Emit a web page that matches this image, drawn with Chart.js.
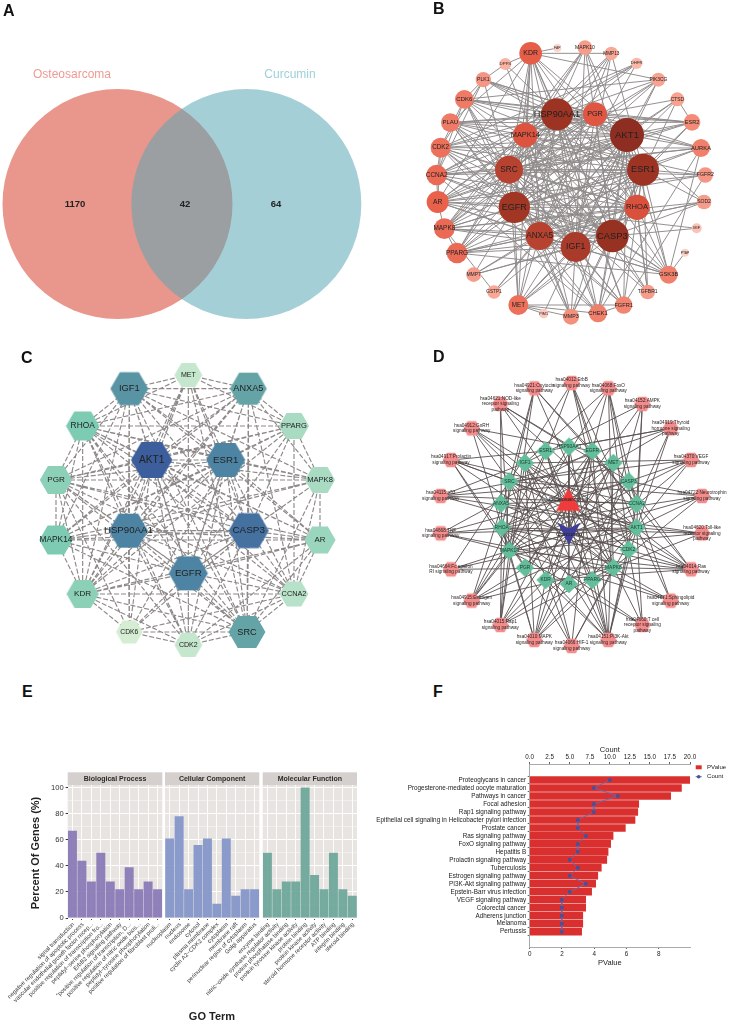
<!DOCTYPE html>
<html>
<head>
<meta charset="utf-8">
<title>Figure</title>
<script src="https://cdn.jsdelivr.net/npm/chart.js@4"></script>
<style>
  html, body { margin: 0; padding: 0; background: #fff; }
  #page { position: relative; width: 730px; height: 1023px; overflow: hidden; }
  canvas { position: absolute; }
  .tag { position: absolute; font: bold 16px "Liberation Sans", sans-serif; color: #111; line-height: 16px; }
</style>
</head>
<body>
<div id="page">
  <canvas id="venn" style="left:0;top:0" width="365" height="330"></canvas>
  <canvas id="ppiB" style="left:400px;top:0" width="330" height="340"></canvas>
  <canvas id="ppiC" style="left:0;top:340px" width="365" height="330"></canvas>
  <canvas id="netD" style="left:390px;top:340px" width="340" height="330"></canvas>
  <canvas id="goBP" style="left:0;top:770px" width="365" height="253"></canvas>
  <canvas id="goCC" style="left:0;top:770px" width="365" height="253"></canvas>
  <canvas id="goMF" style="left:0;top:770px" width="365" height="253"></canvas>
  <canvas id="kegg" style="left:340px;top:745px" width="390" height="222"></canvas>
  <div class="tag" style="left:3px;top:3px">A</div>
  <div class="tag" style="left:433px;top:1px">B</div>
  <div class="tag" style="left:21px;top:350px">C</div>
  <div class="tag" style="left:433px;top:349px">D</div>
  <div class="tag" style="left:22px;top:684px">E</div>
  <div class="tag" style="left:433px;top:684px">F</div>
</div>
<script>
"use strict"

const FONT = '"Liberation Sans", sans-serif';

// ---- A: venn
const vennSets = ["Osteosarcoma", "Curcumin"];
const vennCounts = ["1170", "42", "64"];
const vennX = [117.5, 246.3];
const vennY = [204, 204];
const vennR = [115, 115];

// ---- B: PPI network, degree sets node size and colour
const bNames = ["KDR","FAP","DPP4","MAPK10","MMP13","DHFR","PIK3CG","CTSD","ESR2","AURKA","FGFR2","SOD2","MIF","PTAP","GSK3B","TGFBR1","FGFR1","CHEK1","MMP3","PIM1","MET","GSTP1","MMP7","PPARG","MAPK8","AR","CCNA2","CDK2","PLAU","CDK6","PLK1","HSP90AA1","PGR","AKT1","ESR1","RHOA","CASP3","IGF1","ANXA5","EGFR","SRC","MAPK14"];
const bX = [392,472,316,555,634,710,775,832,876,903,916,912,890,855,806,743,671,594,513,431,355,282,221,171,133,113,110,122,151,193,250,471,585,681,729,711,637,527,419,343,327,376];
const bY = [160,144,192,143,160,190,239,298,367,444,525,606,685,758,824,876,915,940,950,941,915,876,824,759,686,606,525,443,368,298,239,343,343,405,509,622,708,741,708,622,509,405];
const bDegree = [34,12,18,22,20,17,21,21,25,27,23,22,15,12,27,22,26,27,24,14,30,20,22,31,31,33,31,30,28,28,23,48,36,51,48,38,49,45,42,47,42,37];
const bHubs = "HSP90AA1 PGR AKT1 ESR1 RHOA CASP3 IGF1 ANXA5 EGFR SRC MAPK14";
const bLinks = {
  KDR: "FAP HSP90AA1 AKT1 ESR1 EGFR SRC MAPK14 CASP3 IGF1 ANXA5 PIK3CG PLAU MET AR RHOA",
  DPP4: "KDR HSP90AA1 IGF1 PLK1",
  MAPK10: "AKT1 MAPK14 EGFR SRC MAPK8 CASP3 RHOA IGF1",
  MMP13: "ESR1 EGFR ANXA5 KDR SRC MAPK14 IGF1",
  DHFR: "ANXA5 CDK2 MAPK14 SRC CCNA2",
  PIK3CG: "AKT1 EGFR SRC HSP90AA1 CDK6 IGF1 MAPK8",
  CTSD: "ESR2 PGR CASP3 AKT1 ANXA5 EGFR",
  ESR2: "HSP90AA1 ESR1 AKT1 SRC AR PLAU MET PGR CDK6",
  AURKA: "AKT1 HSP90AA1 CDK2 CCNA2 CHEK1 PLK1 GSK3B ESR1 SRC EGFR",
  FGFR2: "ESR1 SRC EGFR FGFR1 AR MAPK14",
  SOD2: "AKT1 CASP3 PPARG ESR1 MAPK8 ANXA5",
  MIF: "CASP3 EGFR",
  PTAP: "GSK3B",
  GSK3B: "AKT1 ESR1 EGFR PPARG MAPK14 CASP3 IGF1 ANXA5 RHOA HSP90AA1 SRC",
  TGFBR1: "ESR1 SRC MAPK14 AKT1 CASP3 RHOA",
  FGFR1: "AKT1 EGFR SRC IGF1 MET HSP90AA1 ESR1 KDR ANXA5 CHEK1",
  CHEK1: "AKT1 ESR1 CDK2 CCNA2 MAPK14 HSP90AA1 EGFR MET CASP3 IGF1",
  MMP3: "ANXA5 IGF1 CASP3 MAPK14 SRC ESR1 EGFR AKT1 MET",
  PIM1: "MET AKT1",
  MET: "IGF1 AKT1 EGFR SRC HSP90AA1 CASP3 ANXA5 RHOA",
  GSTP1: "ESR1 MAPK8 AKT1 ANXA5",
  MMP7: "ANXA5 IGF1 EGFR CASP3 ESR1",
  PPARG: "AKT1 ESR1 RHOA EGFR IGF1 CASP3 SRC MAPK14 MAPK8 ANXA5 HSP90AA1 PGR",
  MAPK8: "AKT1 ESR1 CASP3 MAPK14 RHOA EGFR SRC IGF1 ANXA5 HSP90AA1 AR PGR",
  AR: "AKT1 ESR1 EGFR SRC HSP90AA1 PGR CASP3 MAPK14 CCNA2 CDK2 IGF1 RHOA ANXA5",
  CCNA2: "AKT1 ESR1 CDK2 CDK6 SRC EGFR HSP90AA1 CASP3 PGR PLK1 RHOA",
  CDK2: "AKT1 ESR1 HSP90AA1 EGFR SRC CASP3 CDK6 PGR RHOA IGF1",
  PLAU: "EGFR SRC HSP90AA1 AKT1 ANXA5 IGF1 PGR CASP3 RHOA ESR1 MAPK14",
  CDK6: "HSP90AA1 AKT1 ESR1 PGR CASP3 EGFR RHOA PLK1 ANXA5 SRC",
  PLK1: "AKT1 HSP90AA1 ESR1 CDK2 SRC PGR"
};

// ---- C: top 19 hub genes
const cNames = ["MET","ANXA5","PPARG","MAPK8","AR","CCNA2","SRC","CDK2","CDK6","KDR","MAPK14","PGR","RHOA","IGF1","AKT1","ESR1","HSP90AA1","CASP3","EGFR"];
const cX = [565,745,882,960,960,882,741,565,388,248,168,168,248,388,455,677,385,746,565];
const cY = [105,146,258,420,600,762,876,915,876,762,600,420,258,146,360,360,572,572,700];
const cDegree = [9,17,11,11,12,10,17,9,8,13,14,13,14,18,21,19,19,20,19];
const cHubs = "ANXA5 SRC IGF1 AKT1 ESR1 HSP90AA1 CASP3 EGFR";
const cLinks = {
  MET: "IGF1 ANXA5 AKT1 ESR1 HSP90AA1 CASP3 EGFR SRC KDR CDK2 RHOA PPARG",
  PPARG: "ANXA5 RHOA MAPK8 CCNA2 AKT1 ESR1 CASP3 EGFR IGF1 MAPK14 PGR KDR",
  MAPK8: "PGR AR AKT1 ESR1 CASP3 EGFR SRC MAPK14 RHOA IGF1 ANXA5 HSP90AA1 CCNA2",
  AR: "MAPK14 AKT1 ESR1 HSP90AA1 CASP3 EGFR SRC PGR RHOA KDR IGF1 CCNA2 CDK2",
  CCNA2: "SRC CDK2 CDK6 AKT1 ESR1 CASP3 HSP90AA1 EGFR PGR KDR ANXA5 RHOA",
  CDK2: "SRC CDK6 AKT1 ESR1 HSP90AA1 CASP3 EGFR PGR KDR RHOA",
  CDK6: "SRC KDR AKT1 ESR1 HSP90AA1 IGF1 EGFR CASP3 PGR",
  KDR: "MAPK14 PGR RHOA SRC AKT1 ESR1 HSP90AA1 CASP3 EGFR IGF1 ANXA5",
  MAPK14: "PGR RHOA AKT1 ESR1 HSP90AA1 CASP3 EGFR SRC IGF1 ANXA5",
  PGR: "RHOA AKT1 ESR1 HSP90AA1 CASP3 EGFR IGF1 ANXA5 SRC",
  RHOA: "IGF1 AKT1 ESR1 HSP90AA1 CASP3 EGFR ANXA5 SRC"
};

// ---- D: pathway-gene-compound network
const dPaths = ["hsa04012:ErbB\nsignaling pathway","hsa04921:Oxytocin\nsignaling pathway","hsa04068:FoxO\nsignaling pathway","hsa04621:NOD-like\nreceptor signaling\npathway","hsa04152:AMPK\nsignaling pathway","hsa04912:GnRH\nsignaling pathway","hsa04919:Thyroid\nhormone signaling\npathway","hsa04917:Prolactin\nsignaling pathway","hsa04370:VEGF\nsignaling pathway","hsa04115:p53\nsignaling pathway","hsa04722:Neurotrophin\nsignaling pathway","hsa04668:TNF\nsignaling pathway","hsa04620:Toll-like\nreceptor signaling\npathway","hsa04664:Fc epsilon\nRI signaling pathway","hsa04014:Ras\nsignaling pathway","hsa04915:Estrogen\nsignaling pathway","hsa04071:Sphingolipid\nsignaling pathway","hsa04015:Rap1\nsignaling pathway","hsa04660:T cell\nreceptor signaling\npathway","hsa04010:MAPK\nsignaling pathway","hsa04151:PI3K-Akt\nsignaling pathway","hsa04066:HIF-1\nsignaling pathway"];
const dPathX = [545,433,655,331,757,245,842,183,903,152,936,152,936,183,903,245,842,331,757,433,655,545];
const dPathY = [129,145,145,192,192,265,265,360,360,468,468,580,580,688,688,782,782,855,855,900,900,918];
const dGenes = ["HSP90AA1","EGFR","ESR1","MET","IGF1","CASP3","SRC","CCNA2","ANXA5","AKT1","RHOA","CDK2","MAPK14","MAPK8","PGR","PPARG","KDR","AR"];
const dGeneX = [537,607,467,670,405,716,358,740,333,740,335,716,358,670,405,607,467,537];
const dGeneY = [320,333,333,369,369,424,424,491,491,563,563,629,632,683,683,720,720,732];
const dCompounds = ["Osteosarcoma","Curcumin"];
const dCompoundX = [535,537];
const dCompoundY = [484,582];
const dPathGenes = [
  "SRC AKT1 EGFR MAPK8 MAPK14 CDK2",
  "RHOA CCNA2 SRC MAPK14 EGFR MAPK8",
  "AKT1 CDK2 EGFR IGF1 MAPK14 MAPK8 CCNA2",
  "MAPK14 MAPK8 HSP90AA1 RHOA AKT1 CASP3",
  "AKT1 IGF1 CCNA2 PPARG PGR",
  "EGFR SRC MAPK14 MAPK8 CDK2 AKT1",
  "AKT1 ESR1 SRC RHOA CCNA2 HSP90AA1",
  "ESR1 AKT1 SRC MAPK14 MAPK8 CCNA2 PGR",
  "AKT1 SRC KDR MAPK14 CASP3 IGF1",
  "CASP3 CCNA2 CDK2 IGF1 AKT1 MET",
  "AKT1 MAPK14 MAPK8 RHOA CASP3 SRC",
  "AKT1 CASP3 MAPK14 MAPK8 RHOA EGFR",
  "AKT1 MAPK14 MAPK8 RHOA ANXA5",
  "AKT1 MAPK14 MAPK8 SRC",
  "AKT1 EGFR IGF1 KDR MET MAPK8 RHOA MAPK14 SRC CDK2",
  "AKT1 ESR1 EGFR HSP90AA1 SRC PGR MAPK14 MAPK8",
  "AKT1 RHOA MAPK14 MAPK8 CASP3",
  "AKT1 EGFR IGF1 KDR MET SRC MAPK14 RHOA MAPK8",
  "AKT1 MAPK14 MAPK8 RHOA CDK2",
  "AKT1 CASP3 EGFR IGF1 MAPK14 MAPK8 MET RHOA KDR",
  "AKT1 CCNA2 CDK2 EGFR HSP90AA1 IGF1 KDR MET RHOA SRC ESR1 PPARG",
  "AKT1 EGFR IGF1 RHOA MAPK8 SRC"
];

// ---- E: GO terms
const bpTerms = ["signal transduction","negative regulation of apoptotic process","vascular endothelial growth factor recep...","positive regulation of transcription fro...","peptidyl\u2212serine phosphorylation","ErbB2 signaling pathway","\"positive regulation of transcription, D...","positive regulation of nitric oxide bios...","peptidyl\u2212tyrosine phosphorylation","positive regulation of fibroblast proli..."];
const bpPercent = [67,44,28,50,28,22,39,22,28,22];
const ccTerms = ["nucleoplasm","nucleus","endosome","cytosol","plasma membrane","cyclin A2\u2212CDK2 complex","cytoplasm","membrane raft","perinuclear region of cytoplasm","Golgi apparatus"];
const ccPercent = [61,78,22,56,61,11,61,17,22,22];
const mfTerms = ["enzyme binding","nitric\u2212oxide synthase regulator activity","protein phosphatase binding","protein tyrosine kinase activity","protein binding","protein kinase activity","steroid hormone receptor activity","ATP binding","integrin binding","steroid binding"];
const mfPercent = [50,22,28,28,100,33,22,50,22,17];
const goTicks = [0,20,40,60,80,100];

// ---- F: KEGG enrichment
const keggTerms = ["Proteoglycans in cancer","Progesterone-mediated oocyte maturation","Pathways in cancer","Focal adhesion","Rap1 signaling pathway","Epithelial cell signaling in Helicobacter pylori infection","Prostate cancer","Ras signaling pathway","FoxO signaling pathway","Hepatitis B","Prolactin signaling pathway","Tuberculosis","Estrogen signaling pathway","PI3K-Akt signaling pathway","Epstein-Barr virus infection","VEGF signaling pathway","Colorectal cancer","Adherens junction","Melanoma","Pertussis"];
const keggPValue = [9.94,9.41,8.74,6.76,6.70,6.53,5.93,5.17,5.02,4.86,4.78,4.44,4.22,4.09,3.84,3.47,3.47,3.29,3.29,3.22];
const keggCount = [10,8,11,8,8,6,6,7,6,6,5,6,5,7,5,4,4,4,4,4];

// helpers
function hex(c) { return [1,3,5].map(i => parseInt(c.substr(i,2),16)); }
function ramp(stops, v) {
  for (let i = 1; i < stops.length; i++) {
    if (v <= stops[i][0]) {
      const t = Math.max(0, (v - stops[i-1][0]) / (stops[i][0] - stops[i-1][0]));
      const a = hex(stops[i-1][1]), b = hex(stops[i][1]);
      return "rgb(" + a.map((n,k) => Math.round(n + (b[k]-n)*t)).join(",") + ")";
    }
  }
  return stops[stops.length-1][1];
}
// point style images, Chart.js centres a canvas on the point
function polygonStyle(pts, color) {
  const xs = pts.map(p => Math.abs(p[0])), ys = pts.map(p => Math.abs(p[1]));
  const c = document.createElement("canvas");
  c.width = Math.ceil(Math.max(...xs))*2 + 2;
  c.height = Math.ceil(Math.max(...ys))*2 + 2;
  const g = c.getContext("2d");
  g.translate(c.width/2, c.height/2);
  g.beginPath();
  pts.forEach((p,i) => i ? g.lineTo(p[0],p[1]) : g.moveTo(p[0],p[1]));
  g.closePath();
  g.fillStyle = color;
  g.fill();
  return c;
}
function hexagon(r, color) {
  const h = r*0.866;
  return polygonStyle([[-r,0],[-r/2,-h],[r/2,-h],[r,0],[r/2,h],[-r/2,h]], color);
}
function diamond(r, color) { return polygonStyle([[0,-r],[r,0],[0,r],[-r,0]], color); }

function textMarks(items) {
  return {
    id: "textMarks",
    afterDatasetsDraw(chart) {
      const g = chart.ctx;
      g.save();
      g.textAlign = "center";
      g.textBaseline = "middle";
      items.forEach(it => {
        const px = chart.scales.x.getPixelForValue(it.x), py = chart.scales.y.getPixelForValue(it.y);
        g.font = (it.weight || "normal") + " " + it.size + "px " + FONT;
        g.fillStyle = it.color || "#222";
        const lines = it.text.split("\n");
        lines.forEach((l,i) => g.fillText(l, px, py + (i - (lines.length-1)/2)*it.size*1.2));
      });
      g.restore();
    }
  };
}
function edgePairs(hubs, links) {
  const h = hubs.split(" "), out = [];
  h.forEach((a,i) => h.slice(i+1).forEach(b => out.push([a,b])));
  Object.keys(links).forEach(a => links[a].split(" ").forEach(b => out.push([a,b])));
  return out;
}
function layoutChart(id, W, H, datasets, items) {
  return new Chart(document.getElementById(id), {
    type: "scatter",
    data: { datasets: datasets },
    options: {
      responsive: false, animation: false, events: [],
      layout: { padding: 0, autoPadding: false },
      plugins: { legend: { display: false }, tooltip: { enabled: false } },
      scales: {
        x: { type: "linear", display: false, min: 0, max: W },
        y: { type: "linear", display: false, min: 0, max: H, reverse: true }
      }
    },
    plugins: [textMarks(items)]
  });
}
function edgeDataset(pairs, pos, color, width, dash) {
  const data = [];
  pairs.forEach(p => {
    if (!pos[p[0]] || !pos[p[1]]) return;
    data.push(pos[p[0]], pos[p[1]], {x:null, y:null});
  });
  return { data: data, showLine: true, spanGaps: false, pointRadius: 0, borderColor: color, borderWidth: width, borderDash: dash || [], order: 2, clip: false };
}
function nodeDataset(xs, ys, radius, bg, styles) {
  const ds = { data: xs.map((x,i) => ({x:x, y:ys[i]})), showLine: false, order: 1, clip: false, borderWidth: 0,
    pointRadius: c => radius[c.dataIndex], backgroundColor: c => bg[c.dataIndex] };
  if (styles) ds.pointStyle = c => styles[c.dataIndex];
  return ds;
}
function positions(names, xs, ys) {
  const pos = {};
  names.forEach((n,i) => pos[n] = {x:xs[i], y:ys[i]});
  return pos;
}

// ---- A
layoutChart("venn", 365, 330, [
  nodeDataset([vennX[0]], [vennY[0]], vennR, ["#E9968C"]),
  Object.assign(nodeDataset([vennX[1]], [vennY[1]], vennR, ["rgba(91,168,181,0.55)"]), {order: 0})
], [
  {x:72, y:75, text:vennSets[0], size:12, color:"#EE9A93"},
  {x:290, y:75, text:vennSets[1], size:12, color:"#9FD0D8"},
  {x:75, y:204, text:vennCounts[0], size:9.5, weight:"bold"},
  {x:185, y:204, text:vennCounts[1], size:9.5, weight:"bold"},
  {x:276, y:204, text:vennCounts[2], size:9.5, weight:"bold"}
]);

// ---- B
const bStops = [[12,"#FBD3C9"],[20,"#F9A896"],[27,"#F07F6B"],[33,"#E9604B"],[38,"#D9503C"],[42,"#B84230"],[48,"#9C3323"],[51,"#8E2D21"]];
layoutChart("ppiB", 990, 1020, [
  edgeDataset(edgePairs(bHubs, bLinks), positions(bNames, bX, bY), "#8F8A8A", 0.95),
  nodeDataset(bX, bY, bDegree.map(d => d/3), bDegree.map(d => ramp(bStops, d)))
], bNames.map((n,i) => ({x:bX[i], y:bY[i], text:n, size:1.5 + bDegree[i]*0.16})));

// ---- C
const cStops = [[8,"#D4EDD3"],[11,"#A8DBC2"],[14,"#7CCBB2"],[17,"#64A3A6"],[19,"#4E84A3"],[21,"#3C5E9C"]];
layoutChart("ppiC", 1095, 990, [
  edgeDataset(edgePairs(cHubs, cLinks), positions(cNames, cX, cY), "#8E8888", 1.15, [5,2]),
  nodeDataset(cX, cY, cDegree.map(() => 10), cDegree.map(() => "#fff"),
    cDegree.map(d => hexagon((40 + (d-8)*1.7)/3, ramp(cStops, d))))
], cNames.map((n,i) => ({x:cX[i], y:cY[i], text:n, size:6.8 + (cDegree[i]-8)*0.26})));

// ---- D
const dPos = Object.assign(positions(dGenes, dGeneX, dGeneY), positions(dPaths, dPathX, dPathY), positions(dCompounds, dCompoundX, dCompoundY));
const dEdges = [];
dPaths.forEach((p,i) => dPathGenes[i].split(" ").forEach(g => dEdges.push([p,g])));
dGenes.forEach(g => dCompounds.forEach(c => dEdges.push([g,c])));
layoutChart("netD", 1020, 990, [
  edgeDataset(dEdges, dPos, "#5A5050", 0.9),
  nodeDataset(dPathX, dPathY, dPaths.map(() => 8), dPaths.map(() => "#F58C8C"), dPaths.map(() => hexagon(8.3, "#F58C8C"))),
  nodeDataset(dGeneX, dGeneY, dGenes.map(() => 9), dGenes.map(() => "#63BE9B"), dGenes.map(() => diamond(9.2, "#63BE9B"))),
  nodeDataset(dCompoundX, dCompoundY, [12,12], ["#EE3B3B","#3F3F9B"], [
    polygonStyle([[0,-13.5],[12.3,9.5],[-12.3,9.5]], "#EE3B3B"),
    polygonStyle([[-11.5,-11.5],[0,-5.5],[11.5,-11.5],[0,11]], "#3F3F9B")
  ])
], dPaths.map((n,i) => ({x:dPathX[i], y:dPathY[i], text:n, size:4.7, color:"#2a2222"}))
   .concat(dGenes.map((n,i) => ({x:dGeneX[i], y:dGeneY[i], text:n, size:4.9, color:"#1d3a30"})))
   .concat(dCompounds.map((n,i) => ({x:dCompoundX[i], y:dCompoundY[i]-(i?0:6), text:n, size:6.1, color:"#222"}))));

// ---- E, three facets in canvases over each other so long tick labels can run under the neighbour
function facet(id, terms, values, color, title, left, right, withLabels) {
  const strip = {
    id: "strip",
    beforeDraw(chart) {
      const a = chart.chartArea, g = chart.ctx;
      g.save();
      g.fillStyle = "#E8E4E2";
      g.fillRect(a.left, a.top, a.width, a.height);
      g.fillStyle = "#D5D0CD";
      g.fillRect(a.left, a.top - 12.7, a.width, 12.7);
      g.fillStyle = "#2b2b2b";
      g.font = "bold 7px " + FONT;
      g.textAlign = "center";
      g.textBaseline = "middle";
      g.fillText(title, (a.left + a.right)/2, a.top - 6.2);
      g.restore();
    }
  };
  new Chart(document.getElementById(id), {
    type: "bar",
    data: { labels: terms, datasets: [{ data: values, backgroundColor: color, categoryPercentage: 1, barPercentage: 0.95 }] },
    options: {
      responsive: false, animation: false, events: [],
      layout: { padding: { left: 0, right: 365 - right, top: 15, bottom: 0 }, autoPadding: false },
      plugins: { legend: { display: false }, tooltip: { enabled: false } },
      scales: {
        x: {
          grid: { color: "#fff", lineWidth: 0.9, offset: false, tickColor: "#333", tickLength: 2 },
          border: { display: false },
          ticks: { autoSkip: false, minRotation: 45, maxRotation: 45, padding: 1, labelOffset: 1, color: "#3a3a3a", font: { family: FONT, size: 5.95 } },
          afterFit(s) { s.height = 105; s.paddingLeft = 0; s.paddingRight = 0; }
        },
        y: {
          min: 0, max: 102,
          grid: {
            color: "#fff",
            lineWidth: c => c.tick.value % 20 === 0 ? 1 : 0.45,
            tickColor: c => (withLabels && c.tick.value % 20 === 0) ? "#333" : "transparent",
            tickLength: 2
          },
          border: { display: false },
          ticks: { display: withLabels, autoSkip: false, stepSize: 10, includeBounds: false, padding: 2, color: "#333",
            font: { family: FONT, size: 7.6 },
            callback: v => goTicks.includes(v) ? v : "" },
          afterFit(s) { s.width = left; s.paddingTop = 0; s.paddingBottom = 0; }
        }
      }
    },
    plugins: [strip].concat(withLabels ? [{
      id: "goTitles",
      afterDraw(chart) {
        const g = chart.ctx;
        g.save();
        g.fillStyle = "#222";
        g.font = "bold 11px " + FONT;
        g.textAlign = "center";
        g.textBaseline = "middle";
        g.fillText("GO Term", 212, 247);
        g.translate(35.5, 83);
        g.rotate(-Math.PI/2);
        g.fillText("Percent Of Genes (%)", 0, 0);
        g.restore();
      }
    }] : [])
  });
}
facet("goBP", bpTerms, bpPercent, "rgba(136,120,182,0.93)", "Biological Process", 67.7, 162.3, true);
facet("goCC", ccTerms, ccPercent, "rgba(130,148,200,0.93)", "Cellular Component", 165, 259.3, false);
facet("goMF", mfTerms, mfPercent, "rgba(108,166,154,0.93)", "Molecular Function", 262.7, 357, false);

// ---- F
const keggLegend = {
  id: "keggLegend",
  afterDraw(chart) {
    const g = chart.ctx, x = chart.chartArea.right + 5.7;
    g.save();
    g.fillStyle = "#D9302F";
    g.fillRect(x, 20.3, 6, 4);
    g.strokeStyle = "#5B6DB8";
    g.lineWidth = 1;
    g.beginPath(); g.moveTo(x, 31.7); g.lineTo(x+6, 31.7); g.stroke();
    g.fillStyle = "#44529B";
    g.beginPath(); g.arc(x+3, 31.7, 1.8, 0, Math.PI*2); g.fill();
    g.fillStyle = "#222";
    g.font = "6.1px " + FONT;
    g.textBaseline = "middle";
    g.fillText("PValue", x+11.3, 22.5);
    g.fillText("Count", x+11.3, 31.7);
    g.restore();
  }
};
new Chart(document.getElementById("kegg"), {
  type: "bar",
  data: {
    datasets: [
      { type: "line", label: "Count", data: keggCount.map((v,i) => ({x:v, y:i})), xAxisID: "x2", yAxisID: "y",
        borderColor: "#5B6DB8", borderWidth: 0.9, pointRadius: 2, pointBackgroundColor: "#44529B", pointBorderWidth: 0, order: 1 },
      { label: "PValue", data: keggPValue.map((v,i) => ({x:v, y:i})), xAxisID: "x", yAxisID: "y",
        backgroundColor: "#D9302F", barThickness: 6.9, order: 2 }
    ]
  },
  options: {
    indexAxis: "y", responsive: false, animation: false, events: [],
    layout: { padding: { left: 0, right: 40, top: 0, bottom: 0 }, autoPadding: false },
    plugins: { legend: { display: false }, tooltip: { enabled: false } },
    scales: {
      y: {
        type: "linear", reverse: true, min: -1.43, max: 20.34,
        afterBuildTicks(s) { s.ticks = keggTerms.map((t,i) => ({value:i})); },
        grid: { drawOnChartArea: false, tickColor: "#666", tickLength: 2 },
        border: { color: "#aaa" },
        ticks: { autoSkip: false, padding: 1.5, color: "#222", font: { family: FONT, size: 6.35 }, callback: v => keggTerms[v] },
        afterFit(s) { s.width = 189.7; s.paddingTop = 0; s.paddingBottom = 0; }
      },
      x: {
        type: "linear", position: "bottom", min: 0, max: 9.94,
        grid: { drawOnChartArea: false, tickColor: "#666", tickLength: 2 },
        border: { color: "#aaa" },
        title: { display: true, text: "PValue", color: "#222", padding: 0, font: { family: FONT, size: 7.5 } },
        ticks: { stepSize: 2, includeBounds: false, padding: 1, maxRotation: 0, color: "#222", font: { family: FONT, size: 6.3 } },
        afterFit(s) { s.height = 20; s.paddingLeft = 0; s.paddingRight = 0; }
      },
      x2: {
        type: "linear", position: "top", min: 0, max: 20,
        grid: { drawOnChartArea: false, tickColor: "#666", tickLength: 2 },
        border: { color: "#aaa" },
        title: { display: true, text: "Count", color: "#222", padding: 0, font: { family: FONT, size: 7.5 } },
        ticks: { stepSize: 2.5, padding: 1, maxRotation: 0, color: "#222", font: { family: FONT, size: 6.3 }, callback: v => v.toFixed(1) },
        afterFit(s) { s.height = 19; s.paddingLeft = 0; s.paddingRight = 0; }
      }
    }
  },
  plugins: [keggLegend]
});
</script>
</body>
</html>
